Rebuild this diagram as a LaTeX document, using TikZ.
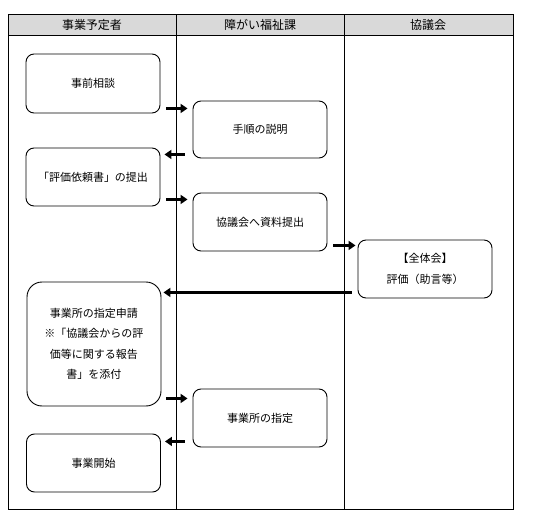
\documentclass[tikz,border=0pt]{standalone}
\usepackage{fontspec}
\setmainfont{Noto Sans CJK JP}
\usepackage{tikz}
\usetikzlibrary{calc, arrows.meta, positioning}

\tikzset{
    box/.style={draw, line width=0.9pt, rounded corners=8pt, minimum width=134pt, minimum height=58pt, align=center, font=\fontsize{11}{20.5}\selectfont},
    head/.style={font=\fontsize{12}{14}\selectfont},
    flow/.style={line width=2.7pt, -{Triangle[length=7pt, width=9pt]}}
}

\begin{document}
\begin{tikzpicture}[x=1pt, y=-1pt]
            \useasboundingbox (0, 0) rectangle (550, 530);
            % table
            \fill[gray!30] (8, 14) rectangle (513, 35);
            \draw[line width=0.8pt] (8, 14) rectangle (513, 509);
            \draw[line width=0.8pt] (8, 35) -- (513, 35);
            \draw[line width=0.8pt] (176, 14) -- (176, 509);
            \draw[line width=0.8pt] (344, 14) -- (344, 509);
            \node[head] (h1) at (92, 24.5) {事業予定者};
            \node[head] (h2) at (260, 24.5) {障がい福祉課};
            \node[head] (h3) at (428, 24.5) {協議会};
            % boxes
            \node[box, minimum height=59pt] (soudan) at (93, 83.5) {事前相談};
            \node[box, minimum height=57pt] (tejun) at (260, 129.5) {手順の説明};
            \node[box] (irai) at (93, 177) {「評価依頼書」の提出};
            \node[box] (shiryo) at (260, 222) {協議会へ資料提出};
            \node[box] (zentai) at (425, 269) {【全体会】\\評価（助言等）};
            \node[box, minimum height=124pt, rounded corners=15pt] (shinsei) at (94, 344) {事業所の指定申請\\※「協議会からの評\\価等に関する報告\\書」を添付};
            \node[box] (shitei) at (260, 418) {事業所の指定};
            \node[box] (kaishi) at (93.5, 463) {事業開始};
            % arrows
            \draw[flow] ($(soudan.south east) + (6pt, 5pt)$) -- ($(tejun.west |- soudan.south east) + (-5pt, 5pt)$);
            \draw[flow] ($(tejun.south west) + (-8pt, 4pt)$) -- ($(irai.east |- tejun.south west) + (4pt, 4pt)$);
            \draw[flow] ($(irai.south east) + (6pt, 7pt)$) -- ($(shiryo.west |- irai.south east) + (-5pt, 7pt)$);
            \draw[flow] ($(shiryo.south east) + (6pt, 6pt)$) -- ($(zentai.west |- shiryo.south east) + (-2pt, 6pt)$);
            \draw[flow] ($(zentai.south west) + (-6pt, 6pt)$) -- ($(shinsei.east |- zentai.south west) + (2pt, 6pt)$);
            \draw[flow] ($(shinsei.south east) + (5pt, 8pt)$) -- ($(shitei.west |- shinsei.south east) + (-5pt, 8pt)$);
            \draw[flow] ($(shitei.south west) + (-8pt, 6pt)$) -- ($(kaishi.east |- shitei.south west) + (4pt, 6pt)$);
        \end{tikzpicture}
\end{document}
